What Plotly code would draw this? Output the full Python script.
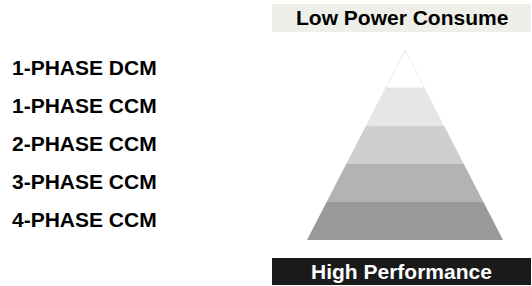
import plotly.graph_objects as go

# Data
levels = ["1-PHASE DCM", "1-PHASE CCM", "2-PHASE CCM", "3-PHASE CCM", "4-PHASE CCM"]
band_colors = ["#ffffff", "#e6e6e6", "#cfcfcf", "#b3b3b3", "#999999"]
top_label = "Low Power Consume"
bottom_label = "High Performance"

W, H = 532, 286
n = len(levels)
FONT = "Liberation Sans, Arial, sans-serif"
FS = 21

fig = go.Figure()
for i, (name, col) in enumerate(zip(levels, band_colors)):
    top = n - i
    bot = n - i - 1
    ht = (n - top) / n
    hb = (n - bot) / n
    xs = [-hb, hb, ht, -ht, -hb]
    ys = [bot, bot, top, top, bot]
    fig.add_trace(go.Scatter(
        x=xs, y=ys, fill="toself", fillcolor=col, mode="lines",
        line=dict(color="#dddddd" if i == 0 else col, width=0.6 if i == 0 else 0),
        hoverinfo="text", text=name, showlegend=False))
    fig.add_annotation(x=10 / W, xref="paper", y=bot + 0.5, yref="y", yshift=1.5,
                       text="<b>" + name + "</b>", showarrow=False,
                       xanchor="left", yanchor="middle",
                       font=dict(family=FONT, size=FS, color="#000000"))

# Boxes
fig.add_shape(type="rect", xref="paper", yref="paper",
              x0=272 / W, x1=531 / W, y0=1 - 32 / H, y1=1 - 4 / H,
              fillcolor="#efefe9", line=dict(width=0), layer="below")
fig.add_annotation(xref="paper", yref="paper", x=(272 + 531) / 2 / W, y=1 - 18 / H,
                   text="<b>" + top_label + "</b>", showarrow=False,
                   xanchor="center", yanchor="middle",
                   font=dict(family=FONT, size=FS, color="#000000"))
fig.add_shape(type="rect", xref="paper", yref="paper",
              x0=272 / W, x1=531 / W, y0=1 - 285 / H, y1=1 - 258 / H,
              fillcolor="#1a1a1a", line=dict(width=0), layer="below")
fig.add_annotation(xref="paper", yref="paper", x=(272 + 531) / 2 / W, y=1 - 271.5 / H,
                   text="<b>" + bottom_label + "</b>", showarrow=False,
                   xanchor="center", yanchor="middle",
                   font=dict(family=FONT, size=FS, color="#ffffff"))

fig.update_layout(
    width=W, height=H, margin=dict(l=0, r=0, t=0, b=0),
    paper_bgcolor="white", plot_bgcolor="rgba(0,0,0,0)",
    xaxis=dict(domain=[307 / W, 503 / W], range=[-1, 1], visible=False, fixedrange=True),
    yaxis=dict(domain=[1 - 240 / H, 1 - 50 / H], range=[0, n], visible=False, fixedrange=True),
)
fig.write_html("out.html", config={"displayModeBar": False},
               post_script="document.body.style.margin='0px';document.body.style.overflow='hidden';")
